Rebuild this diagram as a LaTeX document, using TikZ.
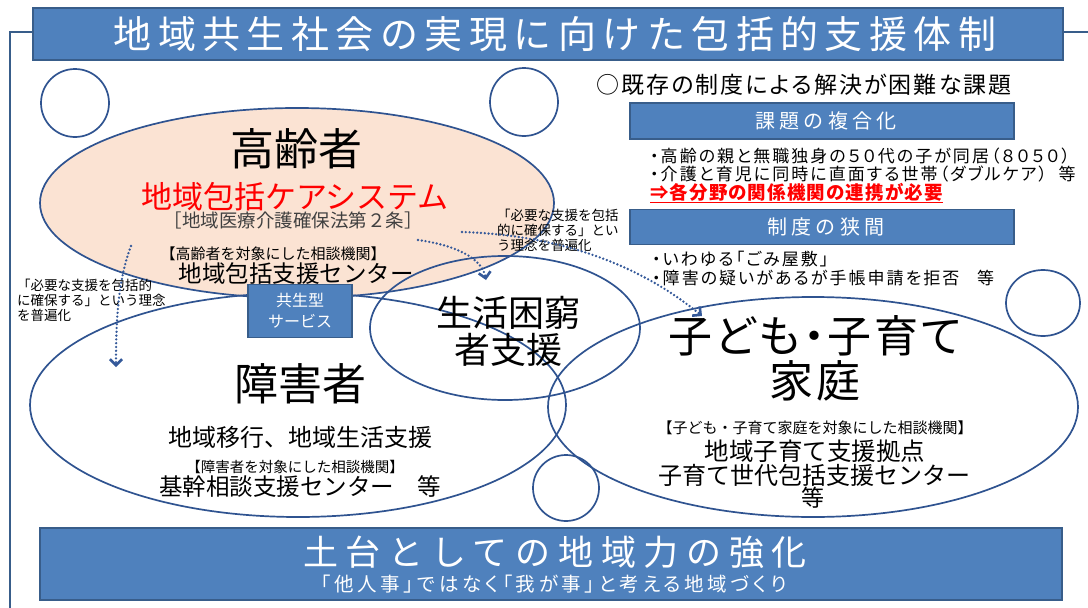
\documentclass[tikz,border=0pt]{standalone}
\usepackage{fontspec}
\setmainfont{Noto Sans CJK JP}
\newfontfamily\jpT[LetterSpace=17]{Noto Sans CJK JP}
\newfontfamily\jpS[LetterSpace=22]{Noto Sans CJK JP}
\newfontfamily\jpA[RawFeature=+palt,LetterSpace=6]{Noto Sans CJK JP}
\newfontfamily\jpB[RawFeature=+palt,LetterSpace=12]{Noto Sans CJK JP}
\newfontfamily\jpC[RawFeature=+palt,LetterSpace=9]{Noto Sans CJK JP}
\newfontfamily\jpQ[RawFeature=+palt,LetterSpace=19]{Noto Sans CJK JP}
\usetikzlibrary{arrows.meta}
\definecolor{boxfill}{HTML}{4F81BD}
\definecolor{boxedge}{HTML}{385D8A}
\definecolor{ringc}{HTML}{2F5390}
\definecolor{peach}{HTML}{FBE3D3}
\definecolor{arrowc}{HTML}{34599A}
\definecolor{redc}{HTML}{FF0000}
\newcommand{\fsz}[1]{\fontsize{#1}{#1}\selectfont}
\begin{document}
\begin{tikzpicture}[x=1pt,y=-1pt,
  bluebox/.style={draw=boxedge,fill=boxfill,line width=1.3pt,text=white,inner sep=0pt},
  ring/.style={draw=ringc,line width=1.7pt},
  dotarrow/.style={draw=arrowc,line width=2.6pt,line cap=round,dash pattern=on 0pt off 3.8pt,-{Straight Barb[length=6pt,width=12pt,line cap=butt]}},
  frame/.style={draw=boxedge,line width=1.6pt},
  txt/.style={inner sep=0pt,text=black},
]
\useasboundingbox (0,0) rectangle (1088,608);
\fill[white] (0,0) rectangle (1088,608);
% frame
\draw[frame] (1088,32) -- (10,32) -- (10,608);
% title
\node[bluebox,minimum width=1030pt,minimum height=52pt] (title) at (548,34) {};
\node[txt,text=white,font=\jpT\fsz{38}] (titletxt) at (555,34) {地域共生社会の実現に向けた包括的支援体制};
% decorative circles
\draw[ring] (75,103) circle[radius=34pt];
\draw[ring] (524,102) circle[radius=34pt];
\draw[ring] (1043,303) ellipse[x radius=37pt, y radius=33pt];
\draw[ring] (566,488) circle[radius=33pt];
% ellipses
\draw[ring,fill=peach] (297,203) ellipse[x radius=257pt, y radius=95pt];
\draw[ring] (298,405) ellipse[x radius=268pt, y radius=112pt];
\draw[ring] (505,328) ellipse[x radius=135pt, y radius=72pt];
\draw[ring] (813,407) ellipse[x radius=265pt, y radius=110pt];
% right side texts
\node[txt,anchor=west,font=\jpC\fsz{23}] (intro) at (596,85) {○既存の制度による解決が困難な課題};
\node[bluebox,minimum width=384pt,minimum height=36pt] (box1) at (822,121) {};
\node[txt,text=white,font=\jpS\fsz{20}] (box1txt) at (826,121) {課題の複合化};
\node[txt,anchor=west,font=\jpB\fsz{17}] (b1) at (650,156) {・高齢の親と無職独身の５０代の子が同居（８０５０）};
\node[txt,anchor=west,font=\jpB\fsz{17}] (b2) at (650,174) {・介護と育児に同時に直面する世帯（ダブルケア）\ \ 等};
\node[txt,anchor=west,text=redc,font=\jpA\fsz{18.5}\bfseries] (redln) at (650,192) {⇒各分野の関係機関の連携が必要};
\draw[redc,line width=1.4pt] ([yshift=-1.5pt]redln.south west) -- ([yshift=-1.5pt]redln.south east);
\node[bluebox,minimum width=384pt,minimum height=35pt] (box2) at (822,227) {};
\node[txt,text=white,font=\jpS\fsz{20}] (box2txt) at (826,227) {制度の狭間};
\node[txt,anchor=west,font=\jpB\fsz{17}] (c1) at (652,259) {・いわゆる「ごみ屋敷」};
\node[txt,anchor=west,font=\jpB\fsz{17}] (c2) at (652,278) {・障害の疑いがあるが手帳申請を拒否\ \ \ 等};
% elderly
\node[txt,font=\fsz{44}] (elder) at (296,149) {高齢者};
\node[txt,text=redc,font=\fsz{31}] (care) at (295,197) {地域包括ケアシステム};
\node[txt,text=black!75,font=\fsz{18.5}] (law) at (293,220) {［地域医療介護確保法第２条］};
\node[txt,font=\fsz{15}] (eldorg) at (273,254) {【高齢者を対象にした相談機関】};
\node[txt,font=\fsz{23.5}] (eldctr) at (296,274) {地域包括支援センター};
% kyosei box
\node[bluebox,minimum width=104pt,minimum height=53pt,align=center,font={\fontsize{16}{21}\selectfont}] (kyosei) at (300,311) {共生型\\サービス};
% poverty
\node[txt,align=center,font={\fontsize{36}{37}\selectfont}] (pov) at (508,331) {生活困窮\\者支援};
% disability
\node[txt,font=\fsz{44}] (dis) at (300,384) {障害者};
\node[txt,font=\fsz{24}] (dis1) at (300,437) {地域移行、地域生活支援};
\node[txt,font=\fsz{14.5}] (disorg) at (295,467) {【障害者を対象にした相談機関】};
\node[txt,font=\fsz{23.5}] (disctr) at (300,487) {基幹相談支援センター　等};
% children
\node[txt,align=center,font={\jpA\fontsize{44}{45}\selectfont}] (child) at (815,358) {子ども・子育て\\家庭};
\node[txt,font=\fsz{15}] (chorg) at (815,428) {【子ども・子育て家庭を対象にした相談機関】};
\node[txt,font=\fsz{24.5}] (ch1) at (815,451) {地域子育て支援拠点};
\node[txt,font=\fsz{24}] (ch2) at (814,475) {子育て世代包括支援センター};
\node[txt,font=\fsz{23}] (ch3) at (813,498) {等};
% annotations
\node[txt,anchor=north west,align=left,font={\fontsize{13.5}{15}\selectfont}] (noteL) at (17,279) {「必要な支援を包括的\\に確保する」という理念\\を普遍化};
\node[txt,anchor=north west,align=left,font={\fontsize{13.5}{15}\selectfont}] (noteM) at (497,209) {「必要な支援を包括\\的に確保する」とい\\う理念を普遍化};
% dotted arrows
\coordinate (a1s) at (131,246); \coordinate (a1e) at (116,367);
\draw[dotarrow] (a1s) .. controls (118,280) and (116,320) .. (a1e);
\coordinate (a2s) at (418,240); \coordinate (a2e) at (486,280);
\draw[dotarrow] (a2s) .. controls (455,245) and (482,258) .. (a2e);
\coordinate (a3s) at (462,232); \coordinate (a3e) at (702,316);
\draw[dotarrow] (a3s) .. controls (560,235) and (640,265) .. (a3e);
% bottom
\node[bluebox,minimum width=1022pt,minimum height=72pt] (base) at (551,564) {};
\node[txt,text=white,font=\jpS\fsz{35}] (base1) at (555,552) {土台としての地域力の強化};
\node[txt,text=white,font=\jpQ\fsz{19.5}] (base2) at (554,584) {「他人事」ではなく「我が事」と考える地域づくり};
\end{tikzpicture}
\end{document}
